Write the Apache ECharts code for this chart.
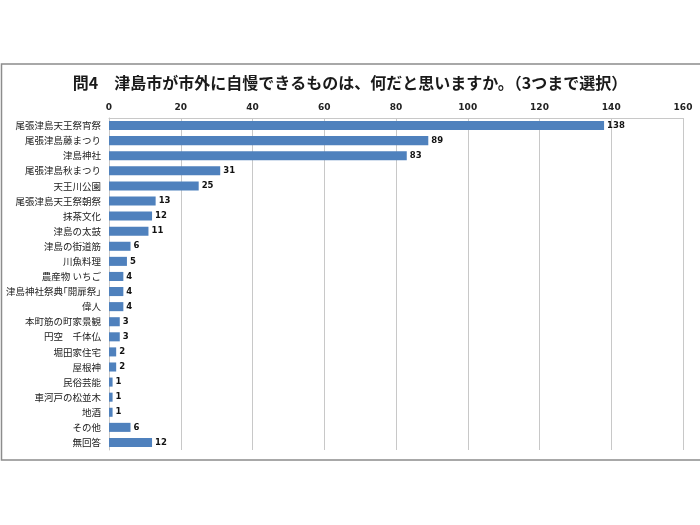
<!DOCTYPE html>
<html><head><meta charset="utf-8">
<script src="https://cdn.jsdelivr.net/npm/echarts@6/dist/echarts.min.js"></script>
<style>html,body{margin:0;padding:0;background:#fff}#c{width:700px;height:525px}</style>
</head><body><div id="c"></div>
<script>
const titleText = '問4　津島市が市外に自慢できるものは、何だと思いますか。（3つまで選択）';
const categories = ['尾張津島天王祭宵祭','尾張津島藤まつり','津島神社','尾張津島秋まつり','天王川公園','尾張津島天王祭朝祭','抹茶文化','津島の太鼓','津島の街道筋','川魚料理','農産物 いちご','津島神社祭典｢開扉祭｣','偉人','本町筋の町家景観','円空　千体仏','堀田家住宅','屋根神','民俗芸能','車河戸の松並木','地酒','その他','無回答'];
const values = [138,89,83,31,25,13,12,11,6,5,4,4,4,3,3,2,2,1,1,1,6,12];
const xMin = 0, xMax = 160, xStep = 20;

const chart = echarts.init(document.getElementById('c'), null, {renderer:'canvas'});
const cjk = '"Noto Sans CJK JP", "Noto Sans CJK SC", sans-serif';
chart.setOption({
  animation:false,
  backgroundColor:'#fff',
  title:{text:titleText,left:'center',top:70,textStyle:{fontFamily:cjk,fontSize:16,fontWeight:'bold',color:'#1a1a1a'}},
  graphic:[{type:'rect',shape:{x:1.5,y:64,width:705,height:396},style:{fill:'none',stroke:'#8c8c8c',lineWidth:1.5},silent:true,z:-1}],
  grid:{left:109,right:17,top:118,bottom:75,containLabel:false},
  xAxis:{type:'value',position:'top',min:xMin,max:xMax,interval:xStep,
    axisLine:{show:true,lineStyle:{color:'#c8c8c8'}},
    axisTick:{show:false},
    axisLabel:{margin:6,fontSize:9,fontWeight:'bold',color:'#222',fontFamily:'"DejaVu Sans", sans-serif'},
    splitLine:{show:true,lineStyle:{color:'#c8c8c8',width:1}}},
  yAxis:{type:'category',data:categories,inverse:true,
    axisLine:{show:true,lineStyle:{color:'#c8c8c8'}},
    axisTick:{show:false},
    axisLabel:{margin:8,fontSize:9.5,color:'#222',fontFamily:cjk}},
  series:[{type:'bar',data:values,barCategoryGap:'40%',
    itemStyle:{color:'#4F81BD'},
    label:{show:true,position:'right',distance:3,fontSize:8.5,fontWeight:'bold',color:'#111',fontFamily:'"DejaVu Sans", sans-serif'}}]
});
</script></body></html>
